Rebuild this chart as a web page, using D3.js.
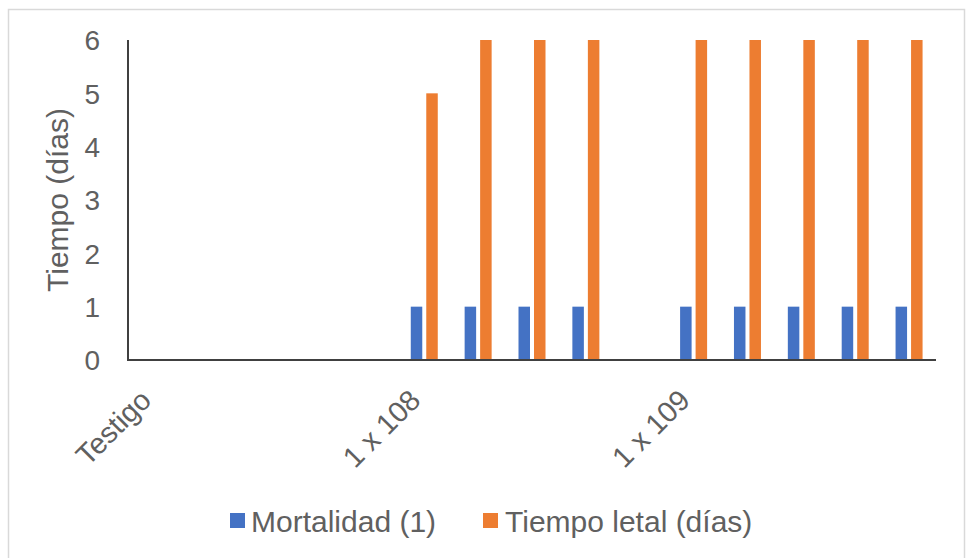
<!DOCTYPE html>
<html>
<head>
<meta charset="utf-8">
<script src="https://cdn.jsdelivr.net/npm/d3@7"></script>
<style>
  html, body { margin: 0; padding: 0; background: #fff; }
  svg { display: block; }
  text { font-family: "Liberation Sans", Arial, sans-serif; fill: #606060; }
</style>
</head>
<body>
<svg id="chart" width="968" height="558"></svg>
<script>
// ---- data ----
const categories = ["Testigo", "c2", "c3", "c4", "c5", "1 x 108", "c7", "c8", "c9", "c10", "1 x 109", "c12", "c13", "c14", "c15"];
const categoryLabels = ["Testigo", "", "", "", "", "1 x 108", "", "", "", "", "1 x 109", "", "", "", ""];
const seriesNames = ["Mortalidad (1)", "Tiempo letal (días)"];
const mortalidad = [0, 0, 0, 0, 0, 1, 1, 1, 1, 0, 1, 1, 1, 1, 1];
const tiempoLetal = [0, 0, 0, 0, 0, 5, 6, 6, 6, 0, 6, 6, 6, 6, 6];
const yTicks = [0, 1, 2, 3, 4, 5, 6];
const colors = ["#4472C4", "#ED7D31"];
const yTitle = "Tiempo (días)";

(function () {
const svg = d3.select("#chart");
const textColor = "#606060";

// outer border
svg.append("rect")
  .attr("x", 8.5).attr("y", 9.5).attr("width", 956).attr("height", 570)
  .attr("fill", "none").attr("stroke", "#d9d9d9").attr("stroke-width", 1.5);

const pLeft = 128, pRight = 936, pTop = 40, pBottom = 360;

const x = d3.scaleBand().domain(categories).range([pLeft, pRight]).padding(0);
const y = d3.scaleLinear().domain([0, 6]).range([pBottom, pTop]);
const groupW = 27;
const x1 = d3.scaleBand().domain(seriesNames).range([0, groupW]).paddingInner(0.258);

const seriesData = [mortalidad, tiempoLetal];

// bars
seriesNames.forEach((s, si) => {
  svg.append("g").selectAll("rect")
    .data(categories.map((c, i) => ({ c, v: seriesData[si][i] })))
    .join("rect")
    .attr("x", d => x(d.c) + x.bandwidth() / 2 - groupW / 2 + x1(s))
    .attr("width", x1.bandwidth())
    .attr("y", d => y(d.v))
    .attr("height", d => y(0) - y(d.v))
    .attr("fill", colors[si]);
});

// y axis labels
const yAxis = d3.axisLeft(y).tickValues(yTicks).tickSize(0).tickPadding(28).tickFormat(d3.format("d"));
const gy = svg.append("g").attr("transform", `translate(${pLeft},0)`).call(yAxis);
gy.select(".domain").remove();
gy.attr("font-family", null).attr("font-size", null);
gy.selectAll("text").style("font-size", "28px").attr("fill", textColor).attr("dy", "0.35em");

// y axis line
svg.append("line").attr("x1", pLeft).attr("x2", pLeft).attr("y1", y(6)).attr("y2", y(0))
  .attr("stroke", "#000").attr("stroke-width", 1.5);

// x axis line
svg.append("line").attr("x1", pLeft - 1).attr("x2", pRight).attr("y1", y(0)).attr("y2", y(0))
  .attr("stroke", "#404040").attr("stroke-width", 2);

// x labels (rotated)
const xAxis = d3.axisBottom(x).tickSize(0).tickFormat((d, i) => categoryLabels[i]);
const gx = svg.append("g").attr("transform", `translate(0,${pBottom})`).call(xAxis);
gx.select(".domain").remove();
gx.attr("font-family", null).attr("font-size", null);
gx.selectAll(".tick text")
  .style("font-size", "29px")
  .attr("fill", textColor)
  .attr("text-anchor", "end")
  .attr("dy", null)
  .attr("y", 0)
  .attr("transform", "translate(-2,42) rotate(-45)");

// y title
svg.append("text")
  .attr("transform", "translate(68,200) rotate(-90)")
  .attr("text-anchor", "middle")
  .attr("fill", textColor)
  .style("font-size", "30px")
  .text(yTitle);

// legend
const legendItems = [
  { name: seriesNames[0], color: colors[0], sx: 230, tx: 251 },
  { name: seriesNames[1], color: colors[1], sx: 483, tx: 505 }
];
const lg = svg.append("g");
legendItems.forEach(it => {
  lg.append("rect").attr("x", it.sx).attr("y", 513).attr("width", 15).attr("height", 15).attr("fill", it.color);
  lg.append("text").attr("x", it.tx).attr("y", 532).attr("fill", textColor).style("font-size", "30px").text(it.name);
});
})();
</script>
</body>
</html>
